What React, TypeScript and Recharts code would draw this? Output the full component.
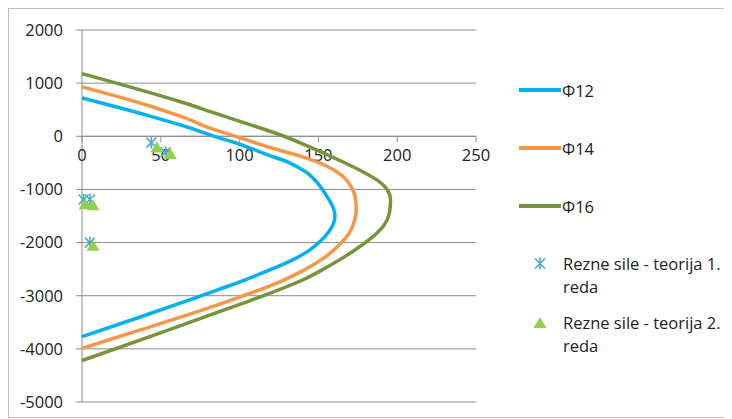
import React from "react";
import {
  ScatterChart,
  Scatter,
  XAxis,
  YAxis,
  CartesianGrid,
  ReferenceLine,
  ReferenceDot,
  Legend,
} from "recharts";

// M (x) / N (y) pairs, top to bottom
const phi12M = [0, 42, 64, 85, 100, 116, 131, 142, 150, 156, 159.5, 160.5, 159.5, 156.5, 151, 143, 132, 118, 102, 86, 71, 36, 0];
const phi12N = [720, 390, 200, -10, -150, -330, -490, -670, -900, -1160, -1350, -1500, -1650, -1800, -1980, -2170, -2350, -2530, -2720, -2890, -3050, -3410, -3770];

const phi14M = [0, 42, 64, 85, 100, 117, 138, 154.5, 165, 171.5, 173.7, 174, 172.8, 169, 163, 154, 142, 127, 110, 92, 64, 32, 0];
const phi14N = [930, 580, 360, 115, -25, -190, -370, -550, -740, -990, -1200, -1400, -1600, -1850, -2050, -2280, -2500, -2720, -2920, -3110, -3390, -3690, -3990];

const phi16M = [0, 42, 64, 85, 106, 127, 144, 161, 177, 188, 194, 195.8, 195, 191.5, 185, 177, 167, 155, 141, 124, 106, 88, 44, 0];
const phi16N = [1180, 830, 635, 430, 225, 15, -195, -420, -650, -840, -1020, -1200, -1450, -1680, -1880, -2060, -2260, -2470, -2690, -2900, -3100, -3290, -3760, -4220];

// cutting forces
const teorija1M = [44, 53, 1, 5, 5];
const teorija1N = [-120, -300, -1190, -1190, -2000];
const teorija2M = [47.5, 56, 2, 7, 7];
const teorija2N = [-210, -335, -1280, -1300, -2060];

const xTicks = [0, 50, 100, 150, 200, 250];
const yTicks = [2000, 1000, 0, -1000, -2000, -3000, -4000, -5000];

const names = ["Φ12", "Φ14", "Φ16", "Rezne sile - teorija 1. reda", "Rezne sile - teorija 2. reda"];
const colors = ["#00b0f0", "#f79646", "#77933c", "#4bacc6", "#92d050"];

const toPoints = (m: number[], n: number[]) => m.map((v, i) => ({ m: v, n: n[i] }));

const FONT = "'Open Sans', sans-serif";
const GRID = "#8c8c8c";

const Asterisk = (props: any) => {
  const { cx, cy } = props;
  return (
    <g stroke={colors[3]} strokeWidth={1.6}>
      <line x1={cx - 5} y1={cy - 5} x2={cx + 5} y2={cy + 5} />
      <line x1={cx - 5} y1={cy + 5} x2={cx + 5} y2={cy - 5} />
      <line x1={cx} y1={cy - 6} x2={cx} y2={cy + 6} />
    </g>
  );
};

const Triangle = (props: any) => {
  const { cx, cy } = props;
  return (
    <polygon
      points={`${cx},${cy - 6} ${cx + 6.5},${cy + 5} ${cx - 6.5},${cy + 5}`}
      fill={colors[4]}
    />
  );
};

const XTickMark = ({ cx, cy, value }: any) => (
  <g>
    <line x1={cx} y1={cy} x2={cx} y2={cy + 6} stroke={GRID} />
    <text
      x={cx}
      y={cy + 18}
      textAnchor="middle"
      dominantBaseline="central"
      fontFamily={FONT}
      fontSize={16.5}
      fill="#222"
    >
      {value}
    </text>
  </g>
);

// legend row centres (px from top of legend box)
const rowCenters = [81, 139, 197, 254, 313];

const LegendBox = () => (
  <div style={{ position: "relative", width: 218, height: 408, fontFamily: FONT, fontSize: 16.5, color: "#222" }}>
    {names.map((name, i) => {
      const top = rowCenters[i] - 11.5;
      if (i < 3) {
        return (
          <div key={name} style={{ position: "absolute", top, left: 10, height: 23, display: "flex", alignItems: "center" }}>
            <span style={{ display: "inline-block", width: 42, height: 4, background: colors[i], marginRight: 1 }} />
            <span style={{ lineHeight: "23px" }}>{name}</span>
          </div>
        );
      }
      return (
        <div key={name} style={{ position: "absolute", top, left: 22 }}>
          <svg width={20} height={23} style={{ position: "absolute", left: 0, top: 0 }}>
            {i === 3 ? <Asterisk cx={9} cy={11.5} /> : <Triangle cx={9} cy={12} />}
          </svg>
          <div style={{ position: "absolute", left: 32, top: 0, width: 170, lineHeight: "23px" }}>{name}</div>
        </div>
      );
    })}
  </div>
);

export default function App() {
  const curves = [
    toPoints(phi12M, phi12N),
    toPoints(phi14M, phi14N),
    toPoints(phi16M, phi16N),
  ];
  return (
    <div style={{ position: "relative", width: 718, height: 408, border: "1px solid #bfbfbf", background: "#fff" }}>
      <ScatterChart width={718} height={408} margin={{ top: 21, right: 251, bottom: 15, left: 0 }}>
        <CartesianGrid vertical={false} stroke={GRID} />
        <XAxis type="number" dataKey="m" domain={[0, 250]} ticks={xTicks} hide />
        <YAxis
          type="number"
          dataKey="n"
          domain={[-5000, 2000]}
          ticks={yTicks}
          interval={0}
          width={73}
          tickSize={6}
          tickMargin={13}
          axisLine={{ stroke: GRID }}
          tickLine={{ stroke: GRID }}
          tick={{ fontFamily: FONT, fontSize: 16.5, fill: "#222" }}
        />
        <ReferenceLine y={0} stroke={GRID} />
        {xTicks.map((t) => (
          <ReferenceDot
            key={t}
            x={t}
            y={0}
            r={3}
            shape={(p: any) => <XTickMark cx={p.cx} cy={p.cy} value={t} />}
          />
        ))}
        {curves.map((data, i) => (
          <Scatter
            key={names[i]}
            name={names[i]}
            data={data}
            line={{ stroke: colors[i], strokeWidth: 3.5 }}
            lineJointType="monotoneY"
            shape={() => <g />}
            isAnimationActive={false}
          />
        ))}
        <Scatter name={names[3]} data={toPoints(teorija1M, teorija1N)} shape={Asterisk} isAnimationActive={false} />
        <Scatter name={names[4]} data={toPoints(teorija2M, teorija2N)} shape={Triangle} isAnimationActive={false} />
        <Legend
          layout="vertical"
          align="center"
          verticalAlign="middle"
          content={() => <LegendBox />}
          wrapperStyle={{ left: 500, top: 0, width: 218, height: 408 }}
        />
      </ScatterChart>
    </div>
  );
}
